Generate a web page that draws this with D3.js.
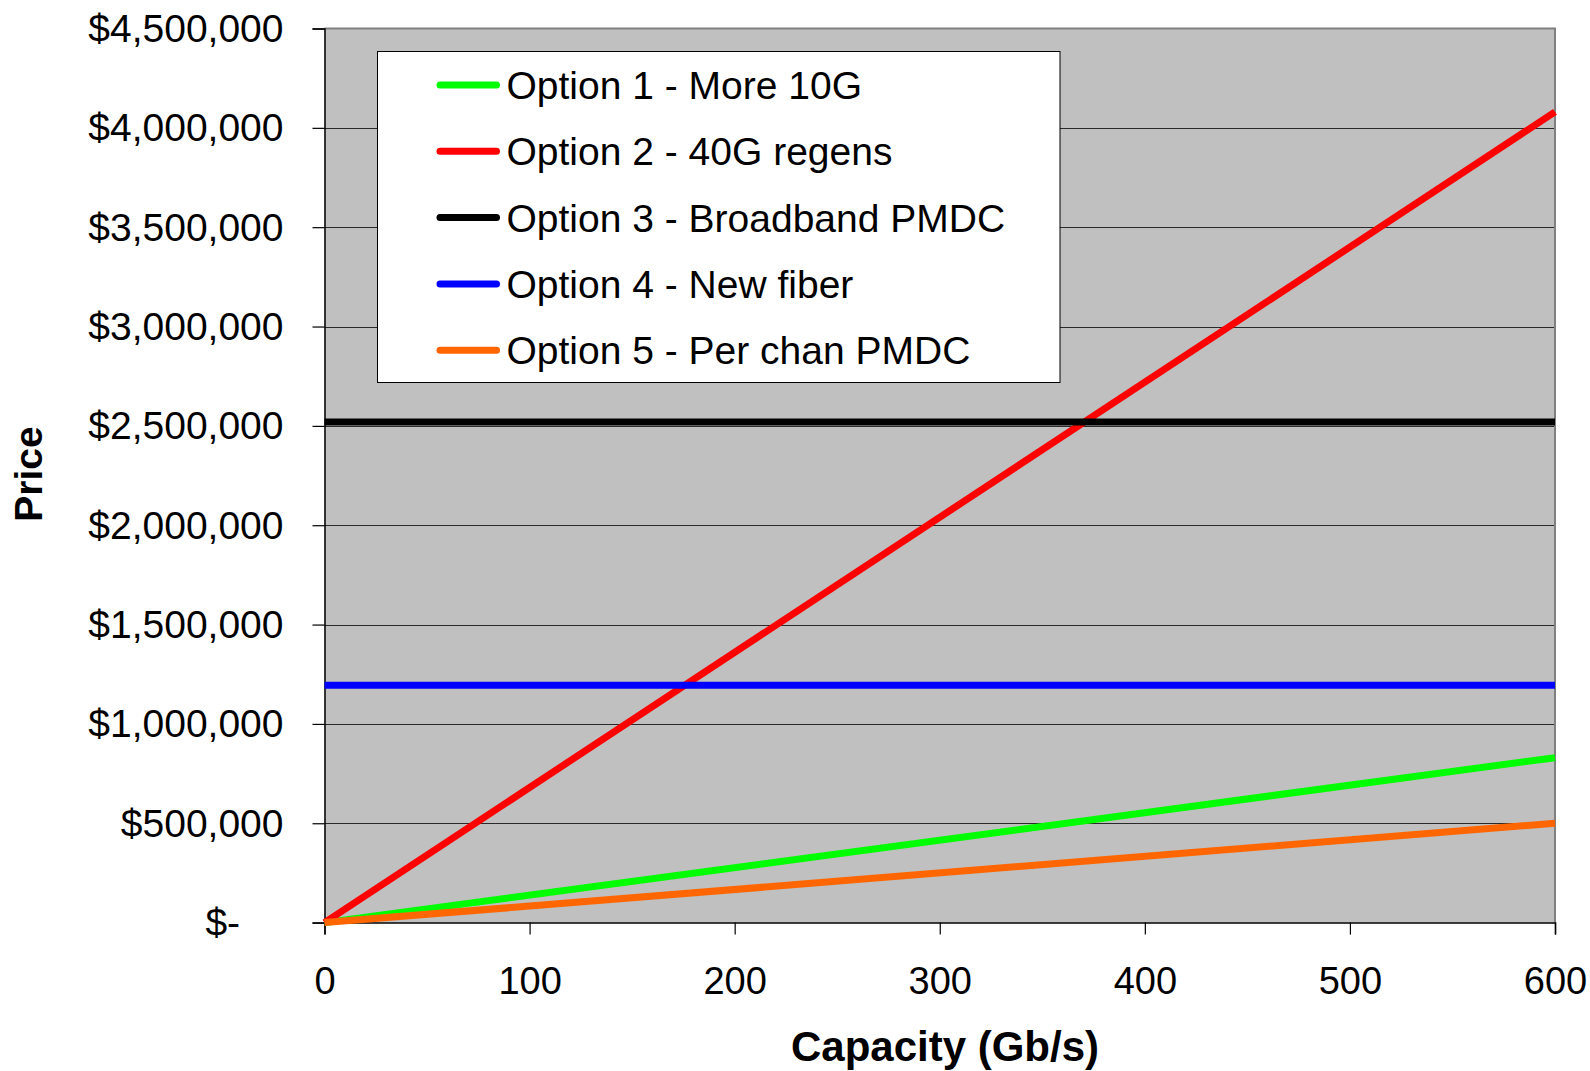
<!DOCTYPE html>
<html>
<head>
<meta charset="utf-8">
<script src="https://cdn.jsdelivr.net/npm/d3@7"></script>
<style>
  html, body { margin: 0; padding: 0; background: #ffffff; }
  svg { display: block; }
  text { font-family: "Liberation Sans", Arial, Helvetica, sans-serif; fill: #000; }
</style>
</head>
<body>
<svg id="chart" width="1590" height="1071"></svg>
<script>
// Capacity points (Gb/s) and price of each upgrade option at those points
const capacity = [0, 600];
const seriesNames = [
  "Option 1 - More 10G",
  "Option 2 - 40G regens",
  "Option 3 - Broadband PMDC",
  "Option 4 - New fiber",
  "Option 5 - Per chan PMDC"
];
const option1Price = [0, 830000];
const option2Price = [0, 4080000];
const option3Price = [2520000, 2520000];
const option4Price = [1195000, 1195000];
const option5Price = [0, 500000];

const priceTicks = [0, 500000, 1000000, 1500000, 2000000, 2500000, 3000000, 3500000, 4000000, 4500000];
const capacityTicks = [0, 100, 200, 300, 400, 500, 600];
const xTitle = "Capacity (Gb/s)";
const yTitle = "Price";

const seriesValues = [option1Price, option2Price, option3Price, option4Price, option5Price];
const seriesColors = ["#00ff00", "#ff0000", "#000000", "#0000ff", "#ff6600"];

const svg = d3.select("#chart");
const plot = { left: 324.5, right: 1555, top: 28.5, bottom: 922.6 };

const x = d3.scaleLinear().domain([0, 600]).range([plot.left, plot.right]);
const y = d3.scaleLinear().domain([0, 4500000]).range([plot.bottom, plot.top]);

// Plot area fill
svg.append("rect")
  .attr("x", plot.left).attr("y", plot.top)
  .attr("width", plot.right - plot.left).attr("height", plot.bottom - plot.top)
  .attr("fill", "#c0c0c0");

// Horizontal gridlines
svg.append("g")
  .selectAll("line")
  .data(priceTicks.filter(d => d > 0 && d < 4500000))
  .join("line")
  .attr("x1", plot.left).attr("x2", plot.right)
  .attr("y1", d => Math.round(y(d)) + 0.5).attr("y2", d => Math.round(y(d)) + 0.5)
  .attr("stroke", "#2a2a2a").attr("stroke-width", 1);

// Plot area frame (top and right)
svg.append("path")
  .attr("d", `M${plot.left},${plot.top}H${plot.right}V${plot.bottom}`)
  .attr("fill", "none").attr("stroke", "#808080").attr("stroke-width", 2);

// Y axis
const fmt = d3.format("$,");
const yAxis = d3.axisLeft(y)
  .tickValues(priceTicks)
  .tickSize(12)
  .tickPadding(29)
  .tickFormat(d => d === 0 ? "$-" : fmt(d));
const yG = svg.append("g").attr("transform", `translate(${plot.left},0)`).call(yAxis);
yG.select(".domain").attr("stroke", "#000").attr("stroke-width", 1.5);
yG.selectAll(".tick line").attr("stroke", "#000").attr("stroke-width", 1.2);
yG.selectAll(".tick text")
  .attr("font-family", "'Liberation Sans', Arial, sans-serif")
  .attr("font-size", 39)
  .attr("dy", "12.8px")
  .attr("fill", "#000");
// Accounting-style zero: the dash sits two digit widths left of the column edge
const digitProbe = svg.append("text").attr("font-size", 39).text("00");
const twoDigits = digitProbe.node().getComputedTextLength();
digitProbe.remove();
yG.selectAll(".tick text").filter(d => d === 0)
  .attr("x", -(12 + 29) - twoDigits);

// X axis
const xAxis = d3.axisBottom(x)
  .tickValues(capacityTicks)
  .tickSize(12)
  .tickFormat(d3.format("d"));
const xG = svg.append("g").attr("transform", `translate(0,${plot.bottom})`).call(xAxis);
xG.select(".domain").attr("stroke", "#000").attr("stroke-width", 1.5);
xG.selectAll(".tick line").attr("stroke", "#000").attr("stroke-width", 1.2);
xG.selectAll(".tick text")
  .attr("font-family", "'Liberation Sans', Arial, sans-serif")
  .attr("font-size", 38)
  .attr("y", 71)
  .attr("dy", 0)
  .attr("fill", "#000");

// Series lines
const line = d3.line().x((d, i) => x(capacity[i])).y(d => y(d));
svg.append("g")
  .selectAll("path")
  .data(seriesValues)
  .join("path")
  .attr("d", d => line(d))
  .attr("fill", "none")
  .attr("stroke", (d, i) => seriesColors[i])
  .attr("stroke-width", 7)
  .attr("stroke-linecap", "butt");

// Legend
const legend = { x: 377.5, y: 51.5, w: 682.5, h: 331, firstRow: 85, rowGap: 66.3 };
const lg = svg.append("g");
lg.append("rect")
  .attr("x", legend.x).attr("y", legend.y)
  .attr("width", legend.w).attr("height", legend.h)
  .attr("fill", "#fff").attr("stroke", "#000").attr("stroke-width", 1);
const rows = lg.selectAll("g.row")
  .data(seriesNames)
  .join("g")
  .attr("class", "row")
  .attr("transform", (d, i) => `translate(0,${legend.firstRow + i * legend.rowGap})`);
rows.append("line")
  .attr("x1", 440).attr("x2", 496.5)
  .attr("y1", 0).attr("y2", 0)
  .attr("stroke", (d, i) => seriesColors[i])
  .attr("stroke-width", 7)
  .attr("stroke-linecap", "round");
rows.append("text")
  .attr("x", 506.5)
  .attr("y", 14)
  .attr("font-size", 39)
  .text(d => d);

// Axis titles
svg.append("text")
  .attr("x", 945).attr("y", 1061)
  .attr("text-anchor", "middle")
  .attr("font-size", 42)
  .attr("font-weight", "bold")
  .text(xTitle);

svg.append("text")
  .attr("transform", "translate(42,474) rotate(-90)")
  .attr("text-anchor", "middle")
  .attr("font-size", 39)
  .attr("font-weight", "bold")
  .text(yTitle);
</script>
</body>
</html>
